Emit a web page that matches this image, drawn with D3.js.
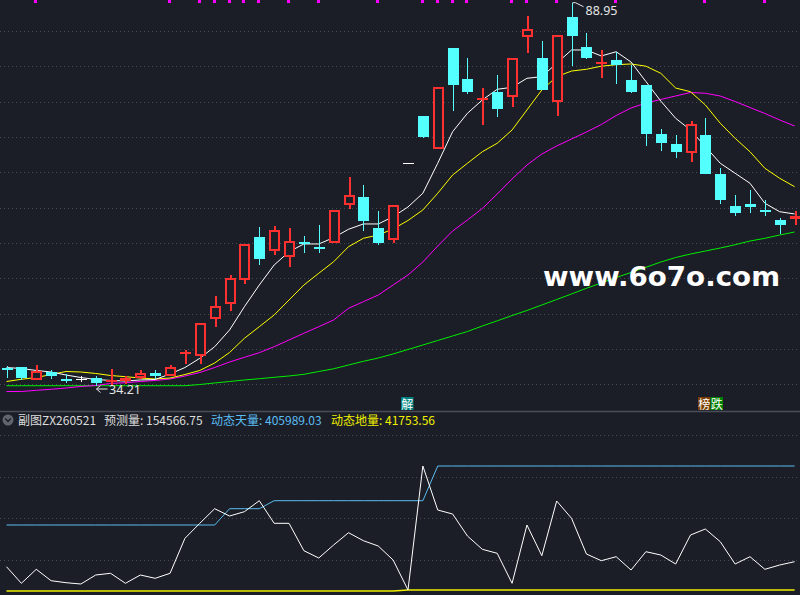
<!DOCTYPE html>
<html><head><meta charset="utf-8">
<script src="https://cdn.jsdelivr.net/npm/d3@7"></script>
<style>html,body{margin:0;padding:0;background:#1b1e26;overflow:hidden}</style>
</head><body><svg id="c" width="800" height="595"></svg>
<script>
// ---- data ----
const bars = d3.range(54);
const open  = [36.74,36.81,35.00,36.18,35.18,35.14,35.24,34.71,34.85,35.33,35.95,35.50,38.67,38.43,43.68,45.82,49.30,55.40,53.44,52.54,54.77,54.02,54.55,59.98,61.17,56.69,54.97,66.03,72.75,67.99,82.43,78.04,75.11,76.14,75.51,84.09,81.00,74.79,86.86,82.57,80.14,80.76,77.90,77.18,70.17,68.74,67.42,70.03,64.46,59.92,60.17,59.24,57.88,58.06];
const high  = [37.00,36.81,37.14,36.43,35.81,35.57,35.61,36.57,35.61,36.43,36.43,37.18,39.29,43.10,47.01,50.01,54.45,56.92,57.02,56.69,55.59,57.16,59.26,64.07,62.88,59.16,59.98,66.03,72.75,76.85,82.43,81.00,76.71,78.61,81.00,87.09,83.47,84.33,88.95,84.58,82.19,81.94,80.04,77.18,70.86,70.03,72.03,72.51,65.27,61.45,62.17,60.74,58.16,59.12];
const low   = [35.28,35.00,35.00,35.10,34.52,34.67,34.21,34.28,34.38,35.14,35.07,35.50,37.24,37.24,42.53,44.91,48.68,51.44,52.91,51.11,53.20,53.20,54.55,59.49,56.30,54.30,54.55,66.03,69.65,67.99,73.51,75.90,71.46,72.56,74.08,81.72,76.47,72.75,79.94,80.86,78.14,77.33,76.08,68.46,67.79,66.79,66.21,64.46,60.17,58.49,58.92,58.49,55.87,57.20];
const close = [36.63,35.33,36.33,35.57,34.97,35.14,34.52,35.00,35.33,35.95,35.61,36.81,39.04,43.10,45.58,49.54,54.45,52.34,56.40,54.87,54.49,53.92,59.26,61.45,57.78,54.55,59.98,66.03,69.79,76.85,77.18,76.22,75.39,73.71,81.00,85.15,76.47,84.33,84.23,81.09,80.51,80.11,76.22,70.17,68.93,67.64,71.56,64.46,60.74,58.92,59.78,59.09,57.23,58.48];
const ma5   = [36.78,36.64,36.36,36.14,35.71,35.35,35.07,34.93,34.85,35.00,35.07,35.86,36.78,38.10,39.76,42.15,45.48,48.58,51.44,53.34,54.45,54.45,55.35,56.55,57.31,57.31,58.35,59.74,61.70,65.99,70.50,73.14,75.04,76.57,76.85,78.14,78.37,80.29,82.19,82.19,81.33,81.94,80.47,77.68,74.89,72.42,70.75,68.36,65.99,64.56,63.13,60.27,59.06,58.74];
const ma10  = [34.78,35.10,35.35,35.78,36.21,36.14,35.93,35.64,35.47,35.28,35.14,35.28,35.78,36.36,37.43,38.93,40.96,42.62,44.29,46.44,48.58,50.26,51.91,54.06,55.26,55.73,56.59,57.81,59.31,61.70,64.31,65.99,67.64,68.85,70.75,73.61,76.47,78.37,79.18,79.43,79.87,80.08,80.19,79.87,78.86,76.75,76.22,74.32,71.71,69.56,67.64,65.27,63.84,62.64];
const ma20  = [33.35,33.35,33.52,33.67,33.85,34.07,34.21,34.50,34.61,34.78,34.93,35.14,35.57,36.07,36.78,37.57,38.24,38.90,39.76,40.72,41.68,42.62,43.58,45.25,46.19,47.15,48.58,50.01,51.87,54.16,56.30,57.88,59.52,61.59,63.74,65.74,67.31,68.46,69.46,70.46,71.53,72.82,73.89,74.61,75.11,75.61,76.11,76.00,75.61,74.82,73.96,73.11,72.18,71.32];
const ma60  = [34.18,34.18,34.18,34.18,34.18,34.18,34.18,34.18,34.18,34.18,34.18,34.18,34.18,34.35,34.57,34.78,35.00,35.18,35.38,35.57,35.81,36.21,36.60,37.14,37.67,38.14,38.72,39.36,40.00,40.65,41.29,41.93,42.72,43.46,44.21,44.94,45.72,46.51,47.30,48.11,48.87,49.65,50.37,51.11,51.87,52.51,53.01,53.44,53.87,54.34,54.87,55.26,55.73,56.16];
const signalBars = [2,11,13,14,15,16,17,19,21,25,28,29,30,31,34,35,37,41,47,51];
const highMark = {bar:38, text:"88.95"};
const lowMark  = {bar:6,  text:"34.21"};
const labelBars  = [27, 47];
const labelTexts = ["解", "榜跌"];
// sub chart
const vol    = [110195,61434,102558,69072,63197,59378,85815,90808,61434,85815,76121,90808,193617,237677,280563,259120,271751,304062,237677,237677,157193,135750,173936,210066,186567,170999,129875,41753.56,405989.03,276744,264995,200373,161305,149556,61434,232684,142506,303181,252364,147500,127819,139569,100502,154256,144562,118126,203310,220934,183629,118126,139569,102558,115189,124882];
const volMax = [232684,232684,232684,232684,232684,232684,232684,232684,232684,232684,232684,232684,232684,232684,232684,280563,280563,280563,304062,304062,304062,304062,304062,304062,304062,304062,304062,304062,304062,405989.03,405989.03,405989.03,405989.03,405989.03,405989.03,405989.03,405989.03,405989.03,405989.03,405989.03,405989.03,405989.03,405989.03,405989.03,405989.03,405989.03,405989.03,405989.03,405989.03,405989.03,405989.03,405989.03,405989.03,405989.03];
const volMin = [38816,38816,38816,38816,38816,38816,38816,38816,38816,38816,38816,38816,38816,38816,38816,38816,38816,38816,38816,38816,38816,38816,38816,38816,38816,38816,38816,41753.56,41753.56,41753.56,41753.56,41753.56,41753.56,41753.56,41753.56,41753.56,41753.56,41753.56,41753.56,41753.56,41753.56,41753.56,41753.56,41753.56,41753.56,41753.56,41753.56,41753.56,41753.56,41753.56,41753.56,41753.56,41753.56,41753.56];
const header = [
  {t:"副图ZX260521", c:"#dcdcdc"},
  {t:"预测量: 154566.75", c:"#dcdcdc"},
  {t:"动态天量: 405989.03", c:"#5bbcf2"},
  {t:"动态地量: 41753.56", c:"#f0f000"}
];
const mainGridCount = 11, subGridCount = 4;

// ---- drawing ----
const W = 800, H = 595;
const BG = "#1b1e26", CYAN = "#54ffff", RED = "#ff3030";
const svg = d3.select("#c");
svg.append("rect").attr("width", W).attr("height", H).attr("fill", BG);

const x = d3.scaleLinear().domain([0, 53]).range([6.5, 794.6]);
const y = d3.scaleLinear().domain([34.21, 88.95]).range([385.5, 2.7]);
const y2 = d3.scaleLinear().domain([41753.56, 405989.03]).range([590, 466]);

const grid = svg.append("g").attr("stroke", "#474b55").attr("stroke-dasharray", "1,3").attr("shape-rendering", "crispEdges");
const g1 = d3.range(mainGridCount).map(k => y.invert(384.3 - k * 35.33));
grid.selectAll("line.m").data(g1).join("line").attr("class", "m")
  .attr("x1", 0).attr("x2", W).attr("y1", d => Math.round(y(d)) + 0.5).attr("y2", d => Math.round(y(d)) + 0.5);
const g2 = d3.range(subGridCount).map(k => y2.invert(560 - k * 41.67));
grid.selectAll("line.s").data(g2).join("line").attr("class", "s")
  .attr("x1", 0).attr("x2", W).attr("y1", d => Math.round(y2(d)) + 0.5).attr("y2", d => Math.round(y2(d)) + 0.5);

// separator
svg.append("line").attr("x1", 0).attr("x2", W).attr("y1", 411.5).attr("y2", 411.5)
  .attr("stroke", "#4a4e58").attr("stroke-width", 1.5);

// MA lines
const mainLine = (arr, color) => {
  svg.append("path").datum(bars)
    .attr("d", d3.line().x(i => x(i)).y(i => y(arr[i])))
    .attr("fill", "none").attr("stroke", color).attr("stroke-width", 1);
};
mainLine(ma60, "#00ee00");
mainLine(ma20, "#ff00ff");
mainLine(ma10, "#ffff00");
mainLine(ma5, "#ffffff");

// candles
const cg = svg.append("g").attr("shape-rendering", "crispEdges");
bars.forEach(i => {
  const cx = Math.round(x(i));
  const o = open[i], c = close[i];
  const top = Math.round(y(Math.max(o, c))), bot = Math.round(y(Math.min(o, c)));
  const hy = Math.round(y(high[i])), ly = Math.round(y(low[i]));
  if (c > o) {
    if (hy < top) cg.append("rect").attr("x", cx).attr("y", hy).attr("width", 1.5).attr("height", top - hy).attr("fill", RED);
    if (ly > bot) cg.append("rect").attr("x", cx).attr("y", bot).attr("width", 1.5).attr("height", ly - bot).attr("fill", RED);
    if (bot - top <= 4) {
      cg.append("rect").attr("x", cx - 5).attr("y", top).attr("width", 11).attr("height", Math.max(2, bot - top)).attr("fill", RED);
      if (bot - top > 2) cg.append("rect").attr("x", cx - 3).attr("y", top + 1.5).attr("width", 7).attr("height", bot - top - 3).attr("fill", BG);
    } else {
      cg.append("rect").attr("x", cx - 4).attr("y", top + 1).attr("width", 9).attr("height", bot - top - 2)
        .attr("fill", BG).attr("stroke", RED).attr("stroke-width", 2);
    }
  } else if (c < o) {
    cg.append("line").attr("x1", cx + 0.5).attr("x2", cx + 0.5).attr("y1", hy).attr("y2", ly).attr("stroke", CYAN);
    cg.append("rect").attr("x", cx - 5).attr("y", top).attr("width", 11).attr("height", Math.max(2, bot - top)).attr("fill", CYAN);
  } else {
    cg.append("line").attr("x1", cx + 0.5).attr("x2", cx + 0.5).attr("y1", hy).attr("y2", ly).attr("stroke", "#ffffff");
    cg.append("line").attr("x1", cx - 5).attr("x2", cx + 6).attr("y1", top + 0.5).attr("y2", top + 0.5).attr("stroke", "#ffffff").attr("stroke-width", 1.5);
  }
});

// signal marks at the top
svg.append("g").selectAll("rect").data(signalBars).join("rect")
  .attr("x", i => Math.round(x(i)) - 2).attr("y", 0).attr("width", 3).attr("height", 3).attr("fill", "#ff00ff");

// high / low markers
{
  const hx = Math.round(x(highMark.bar)) + 0.5, hy = y(high[highMark.bar]);
  svg.append("path").attr("d", `M${hx},${hy}H${hx + 3}L${hx + 11},${hy + 4}`).attr("fill", "none").attr("stroke", "#e6e6e6");
  svg.append("text").attr("x", hx + 13).attr("y", hy + 12).attr("fill", "#e6e6e6")
    .attr("font-family", "Noto Sans, sans-serif").attr("font-size", 12.5).text(highMark.text);
  const lx = Math.round(x(lowMark.bar)) + 0.5, ly = y(low[lowMark.bar]);
  svg.append("path").attr("d", `M${lx + 4},${ly}L${lx},${ly + 3.5}L${lx + 4},${ly + 7}M${lx},${ly + 3.5}H${lx + 11}`).attr("fill", "none").attr("stroke", "#e6e6e6");
  svg.append("text").attr("x", lx + 12.5).attr("y", ly + 8.5).attr("fill", "#e6e6e6")
    .attr("font-family", "Noto Sans, sans-serif").attr("font-size", 12.5).text(lowMark.text);
}

// bar labels
const labelColors = ["#008080", "#7a3e00", "#008000"];
let colorIdx = 0;
labelBars.forEach((b, k) => {
  const chars = Array.from(labelTexts[k]);
  const x0 = Math.round(x(b)) - 7;
  chars.forEach((ch, j) => {
    const bx = x0 + j * 12.5;
    svg.append("rect").attr("x", bx).attr("y", 397).attr("width", 12.5).attr("height", 13).attr("fill", labelColors[colorIdx++]);
    svg.append("text").attr("x", bx + 6.25).attr("y", 408.5).attr("text-anchor", "middle").attr("fill", "#ffffff")
      .attr("font-family", "Noto Sans CJK SC").attr("font-size", 12).text(ch);
  });
});

// watermark
svg.append("text").attr("x", 543).attr("y", 286).attr("fill", "#ffffff")
  .attr("font-family", "DejaVu Sans, sans-serif").attr("font-weight", "bold").attr("font-size", 27)
  .attr("textLength", 237).attr("lengthAdjust", "spacingAndGlyphs").text("www.6o7o.com");

// header
svg.append("circle").attr("cx", 8).attr("cy", 420).attr("r", 5.5).attr("fill", "#5f646e");
svg.append("path").attr("d", "M5.2,418.5L8,421.5L10.8,418.5").attr("fill", "none").attr("stroke", "#1b1e26").attr("stroke-width", 1.4);
const htxt = svg.append("text").attr("y", 424.5).attr("font-family", "Noto Sans CJK SC").attr("font-size", 12);
const hx = [18, 104, 211, 331];
header.forEach((h, k) => htxt.append("tspan").attr("x", hx[k]).attr("fill", h.c).text(h.t));

// sub chart lines
const subLine = (arr, color, w) => {
  svg.append("path").datum(bars)
    .attr("d", d3.line().x(i => x(i)).y(i => y2(arr[i])))
    .attr("fill", "none").attr("stroke", color).attr("stroke-width", w);
};
subLine(volMin, "#f0f000", 1.5);
subLine(volMax, "#5bbcf2", 1);
subLine(vol, "#ffffff", 1);
</script></body></html>
